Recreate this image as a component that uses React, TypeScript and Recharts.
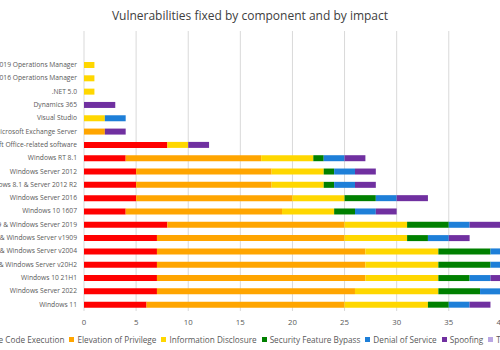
import React from 'react';
import { BarChart, Bar, XAxis, YAxis, CartesianGrid, Legend } from 'recharts';

const components = [
  'System Center 2019 Operations Manager',
  'System Center 2016 Operations Manager',
  '.NET 5.0',
  'Dynamics 365',
  'Visual Studio',
  'Microsoft Exchange Server',
  'Microsoft Office-related software',
  'Windows RT 8.1',
  'Windows Server 2012',
  'Windows 8.1 & Server 2012 R2',
  'Windows Server 2016',
  'Windows 10 1607',
  'Windows 10 1809 & Windows Server 2019',
  'Windows 10 1909 & Windows Server v1909',
  'Windows 10 2004 & Windows Server v2004',
  'Windows 10 20H2 & Windows Server v20H2',
  'Windows 10 21H1',
  'Windows Server 2022',
  'Windows 11',
];

const remoteCodeExecution = [0, 0, 0, 0, 0, 0, 8, 4, 5, 5, 5, 4, 8, 7, 7, 7, 7, 7, 6];
const elevationOfPrivilege = [0, 0, 0, 0, 0, 2, 0, 13, 13, 13, 15, 15, 17, 18, 20, 20, 20, 19, 19];
const informationDisclosure = [1, 1, 1, 0, 2, 0, 2, 5, 5, 5, 5, 5, 6, 6, 7, 7, 7, 8, 8];
const securityFeatureBypass = [0, 0, 0, 0, 0, 0, 0, 1, 1, 1, 3, 2, 4, 2, 5, 5, 3, 4, 2];
const denialOfService = [0, 0, 0, 0, 2, 0, 0, 2, 2, 2, 2, 2, 2, 2, 2, 2, 2, 2, 2];
const spoofing = [0, 0, 0, 3, 0, 2, 2, 2, 2, 2, 3, 2, 3, 2, 2, 2, 2, 2, 2];
const tampering = [0, 0, 0, 0, 0, 0, 0, 0, 0, 0, 0, 0, 0, 0, 0, 0, 0, 0, 0];

const xTicks = [0, 5, 10, 15, 20, 25, 30, 35, 40, 45];

const series = [
  { key: 'rce', name: 'Remote Code Execution', color: '#ff0000' },
  { key: 'eop', name: 'Elevation of Privilege', color: '#ffa500' },
  { key: 'info', name: 'Information Disclosure', color: '#ffd700' },
  { key: 'sfb', name: 'Security Feature Bypass', color: '#008000' },
  { key: 'dos', name: 'Denial of Service', color: '#1e7fd8' },
  { key: 'spoof', name: 'Spoofing', color: '#7030a0' },
  { key: 'tamp', name: 'Tampering', color: '#b9a6e3' },
];

const data = components.map((name, i) => ({
  name,
  rce: remoteCodeExecution[i],
  eop: elevationOfPrivilege[i],
  info: informationDisclosure[i],
  sfb: securityFeatureBypass[i],
  dos: denialOfService[i],
  spoof: spoofing[i],
  tamp: tampering[i],
}));

const font = '"Open Sans", "Noto Sans", sans-serif';

// plain right-aligned label, no wrapping (long names run off the left edge)
const CategoryTick = ({ x, y, payload }: any) => (
  <text x={x} y={y} dy="0.35em" textAnchor="end" fontSize={6.7} fill="#595959" fontFamily={font}>
    {payload.value}
  </text>
);

const LegendRow = () => (
  <div
    style={{
      display: 'flex',
      justifyContent: 'center',
      whiteSpace: 'nowrap',
      height: 16,
      alignItems: 'center',
      fontFamily: font,
      fontSize: 8.2,
      color: '#595959',
    }}
  >
    {series.map((s) => (
      <span key={s.key} style={{ display: 'inline-flex', alignItems: 'center', marginRight: 5 }}>
        <span style={{ width: 5, height: 5, background: s.color, marginRight: 3, display: 'inline-block' }} />
        {s.name}
      </span>
    ))}
  </div>
);

export default function App() {
  return (
    <div
      style={{
        position: 'fixed',
        left: 0,
        top: 0,
        width: 500,
        height: 350,
        overflow: 'hidden',
        background: '#fff',
      }}
    >
      <div
        style={{
          position: 'absolute',
          top: 6,
          left: 0,
          width: 500,
          textAlign: 'center',
          fontFamily: font,
          fontSize: 12,
          color: '#404040',
          lineHeight: '20px',
          zIndex: 1,
        }}
      >
        Vulnerabilities fixed by component and by impact
      </div>
      <BarChart
        width={560}
        height={350}
        data={data}
        layout="vertical"
        margin={{ top: 31, right: 7, left: 0, bottom: 3 }}
        barSize={6}
      >
        <CartesianGrid horizontal={false} stroke="#d9d9d9" />
        <XAxis
          type="number"
          domain={[0, 45]}
          ticks={xTicks}
          interval={0}
          axisLine={false}
          tickLine={false}
          tickSize={0}
          tickMargin={8}
          height={20}
          tick={{ fontSize: 7.8, fill: '#595959', fontFamily: font }}
        />
        <YAxis
          type="category"
          dataKey="name"
          width={84}
          interval={0}
          axisLine={false}
          tickLine={false}
          tickSize={0}
          tickMargin={7}
          padding={{ top: 27, bottom: 0 }}
          tick={<CategoryTick />}
        />
        <Legend
          verticalAlign="bottom"
          content={<LegendRow />}
          wrapperStyle={{ left: -88, width: 684 }}
        />
        {series.map((s) => (
          <Bar key={s.key} dataKey={s.key} name={s.name} stackId="a" fill={s.color} isAnimationActive={false} />
        ))}
      </BarChart>
    </div>
  );
}
